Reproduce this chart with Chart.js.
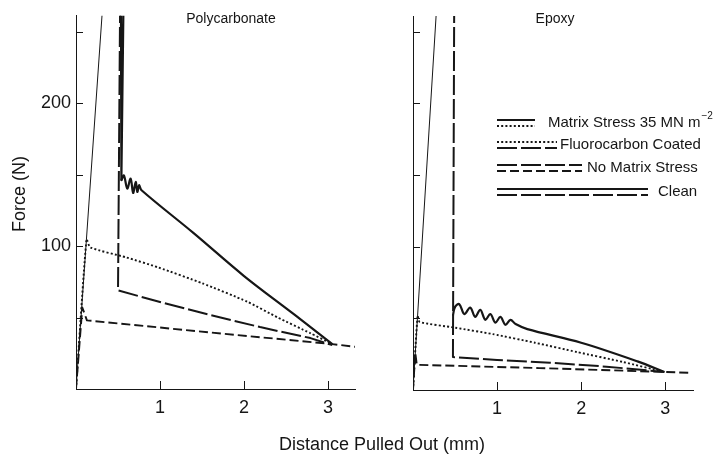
<!DOCTYPE html>
<html><head><meta charset="utf-8">
<script src="https://cdn.jsdelivr.net/npm/chart.js@4/dist/chart.umd.min.js"></script>
<style>
html,body{margin:0;padding:0;background:#fff;width:714px;height:461px;overflow:hidden;font-family:'Liberation Sans',Arial,sans-serif;color:#151515}
#wrap{position:relative;width:714px;height:461px;background:#fff}
canvas{position:absolute;top:0}
.lbl{position:absolute;white-space:nowrap;line-height:1;transform:translate(-50%,-50%)}
</style></head><body>
<div id="wrap">
<canvas id="pc" width="360" height="461" style="left:0"></canvas>
<canvas id="ep" width="354" height="461" style="left:360px"></canvas>
<div class="lbl" style="left:231px;top:18px;font-size:14px">Polycarbonate</div>
<div class="lbl" style="left:555px;top:18px;font-size:14px">Epoxy</div>
<div class="lbl" style="left:19px;top:194px;font-size:18px;transform:translate(-50%,-50%) rotate(-90deg)">Force (N)</div>
<div class="lbl" style="left:382px;top:444px;font-size:18px">Distance Pulled Out (mm)</div>
</div>
<script>
// ---- data: Polycarbonate (distance mm, force N) ----
const pcSteepX = [0, 0.32];
const pcSteepY = [0, 270];
const pcRiseX = [0.535, 0.54, 0.565];
const pcRiseY = [270, 146, 270];
const pcSolidX = [0.54, 0.57, 0.61, 0.65, 0.68, 0.71, 0.73, 0.75, 0.78, 1.4, 2.0, 2.6, 3.05];
const pcSolidY = [146, 149.4, 140.2, 147.1, 137.1, 144.8, 137.8, 142.5, 139, 109, 79, 52, 31.4];
const pcLongDashX = [0.525, 0.50, 1.0, 1.6, 2.19, 2.79, 3.05];
const pcLongDashY = [270, 69, 60.8, 51.7, 43.3, 35.6, 30.7];
const pcDottedX = [0, 0.125, 0.17, 0.6, 0.98, 1.5, 2.04, 2.4, 2.79, 3.05];
const pcDottedY = [0, 104.7, 99, 92, 85, 74, 61, 50, 39, 31.4];
const pcShortDashX = [0, 0.075, 0.13, 1.6, 3.05, 3.32];
const pcShortDashY = [0, 57, 48, 39.5, 31.4, 29.5];

// ---- data: Epoxy ----
const epSteepX = [0, 0.285];
const epSteepY = [0, 271];
const epSolidX = [0.475, 0.50, 0.55, 0.61, 0.68, 0.74, 0.80, 0.86, 0.92, 0.98, 1.04, 1.10, 1.16, 1.22, 1.36, 2.0, 2.67, 2.99];
const epSolidY = [52, 58, 60, 53, 57.5, 51, 56, 49, 53, 47, 51, 45.5, 49, 46, 42.5, 33, 20, 12.6];
const epLongDashX = [0.49, 0.475, 1.0, 1.63, 2.3, 2.99];
const epLongDashY = [270, 23, 21, 19, 16.3, 12.6];
const epDottedX = [0, 0.055, 0.08, 0.5, 0.95, 1.45, 1.95, 2.5, 2.99];
const epDottedY = [0, 52, 47.5, 43.5, 39, 33, 26.5, 19.5, 12.6];
const epShortDashX = [0, 0.027, 0.045, 1.5, 2.99, 3.3];
const epShortDashY = [0, 26, 17.6, 15.3, 12.6, 12];

// ---- ticks / labels ----
const xTickValues = [1, 2, 3];
const yTickValues = [50, 100, 150, 200, 250];
const yLabelled = [100, 200];
const legendLabels = ['Matrix Stress 35 MN m', 'Fluorocarbon Coated', 'No Matrix Stress', 'Clean'];

// ---- styles ----
const STY = {
  thin: {dash: [], w: 1},
  solid: {dash: [], w: 2.2},
  longDash: {dash: [20, 4], w: 2},
  dotted: {dash: [2, 2.2], w: 1.9},
  shortDash: {dash: [9, 4], w: 1.9}
};
const INK = '#161616';

function pts(xs, ys) { return xs.map((x, i) => ({x: x, y: ys[i]})); }
function ds(xs, ys, st, tension) {
  const s = STY[st];
  return {data: pts(xs, ys), borderColor: INK, borderWidth: s.w, borderDash: s.dash,
          pointRadius: 0, tension: tension || 0, fill: false, borderJoinStyle: 'round'};
}

const innerTicks = {
  id: 'innerTicks',
  afterDraw(chart) {
    const ctx = chart.ctx, a = chart.chartArea, xs = chart.scales.x, ys = chart.scales.y;
    ctx.save();
    ctx.strokeStyle = INK; ctx.lineWidth = 1; ctx.setLineDash([]);
    xTickValues.forEach(v => {
      const p = Math.round(xs.getPixelForValue(v)) + 0.5;
      ctx.beginPath(); ctx.moveTo(p, a.bottom); ctx.lineTo(p, a.bottom - 8); ctx.stroke();
    });
    yTickValues.forEach(v => {
      const p = Math.round(ys.getPixelForValue(v)) + 0.5;
      ctx.beginPath(); ctx.moveTo(a.left, p); ctx.lineTo(a.left + 7, p); ctx.stroke();
    });
    ctx.restore();
  }
};

const legendPlugin = {
  id: 'pairLegend',
  afterDraw(chart) {
    const ctx = chart.ctx, off = 360;
    const rows = [
      {x2: 535, y: 123, top: 'solid', bot: 'dotted', tx: 548},
      {x2: 557, y: 145, top: 'dotted', bot: 'longDash', tx: 560},
      {x2: 582, y: 168, top: 'longDash', bot: 'shortDash', tx: 587},
      {x2: 648, y: 192, top: 'solid', bot: 'longDash', tx: 658}
    ];
    ctx.save();
    ctx.strokeStyle = INK; ctx.fillStyle = INK;
    rows.forEach((r, i) => {
      [[r.top, r.y - 3], [r.bot, r.y + 3]].forEach(([st, yy]) => {
        const s = STY[st];
        ctx.setLineDash(s.dash); ctx.lineWidth = Math.min(s.w, 1.9);
        ctx.beginPath(); ctx.moveTo(497 - off, yy); ctx.lineTo(r.x2 - off, yy); ctx.stroke();
      });
      ctx.font = "15px 'Liberation Sans', Arial, sans-serif";
      ctx.textBaseline = 'middle'; ctx.textAlign = 'left';
      ctx.fillText(legendLabels[i], r.tx - off, r.y);
      if (i === 0) {
        const w = ctx.measureText(legendLabels[i]).width;
        ctx.font = "10px 'Liberation Sans', Arial, sans-serif";
        ctx.fillText('\u22122', r.tx - off + w + 1, r.y - 7);
      }
    });
    ctx.restore();
  }
};

function makeChart(id, datasets, opt) {
  return new Chart(document.getElementById(id), {
    type: 'line',
    data: {datasets: datasets},
    options: {
      responsive: false, animation: false, devicePixelRatio: 1,
      layout: {padding: {left: 0, top: opt.top, right: opt.right, bottom: 0}},
      plugins: {legend: {display: false}, tooltip: {enabled: false}},
      scales: {
        x: {
          type: 'linear', min: 0, max: opt.xMax,
          grid: {display: false, drawTicks: false},
          border: {display: true, color: INK, width: 1},
          afterBuildTicks: s => { s.ticks = xTickValues.map(v => ({value: v})); },
          afterFit: s => { s.height = opt.xH; },
          ticks: {color: INK, padding: 8, font: {size: 18, family: "'Liberation Sans', Arial, sans-serif"}, maxRotation: 0,
                  callback: v => String(v)}
        },
        y: {
          type: 'linear', min: 0, max: 261,
          grid: {display: false, drawTicks: false},
          border: {display: true, color: INK, width: 1},
          afterBuildTicks: s => { s.ticks = yTickValues.map(v => ({value: v})); },
          afterFit: s => { s.width = opt.yW; },
          ticks: {color: INK, padding: 5, font: {size: 18, family: "'Liberation Sans', Arial, sans-serif"},
                  callback: v => (opt.yLabels && yLabelled.includes(v)) ? String(v) : ''}
        }
      }
    },
    plugins: opt.plugins
  });
}

makeChart('pc', [
  ds(pcSteepX, pcSteepY, 'thin'),
  ds(pcShortDashX, pcShortDashY, 'shortDash'),
  ds(pcDottedX, pcDottedY, 'dotted', 0.2),
  ds(pcLongDashX, pcLongDashY, 'longDash'),
  ds(pcRiseX, pcRiseY, 'solid'),
  ds(pcSolidX, pcSolidY, 'solid', 0.35)
], {top: 15, right: 5, xMax: 3.32, xH: 72, yW: 76, yLabels: true, plugins: [innerTicks]});

makeChart('ep', [
  ds(epSteepX, epSteepY, 'thin'),
  ds(epShortDashX, epShortDashY, 'shortDash'),
  ds(epDottedX, epDottedY, 'dotted', 0.2),
  ds(epLongDashX, epLongDashY, 'longDash'),
  ds(epSolidX, epSolidY, 'solid', 0.35)
], {top: 16, right: 21, xMax: 3.33, xH: 71, yW: 53, yLabels: false, plugins: [innerTicks, legendPlugin]});
</script>
</body></html>
